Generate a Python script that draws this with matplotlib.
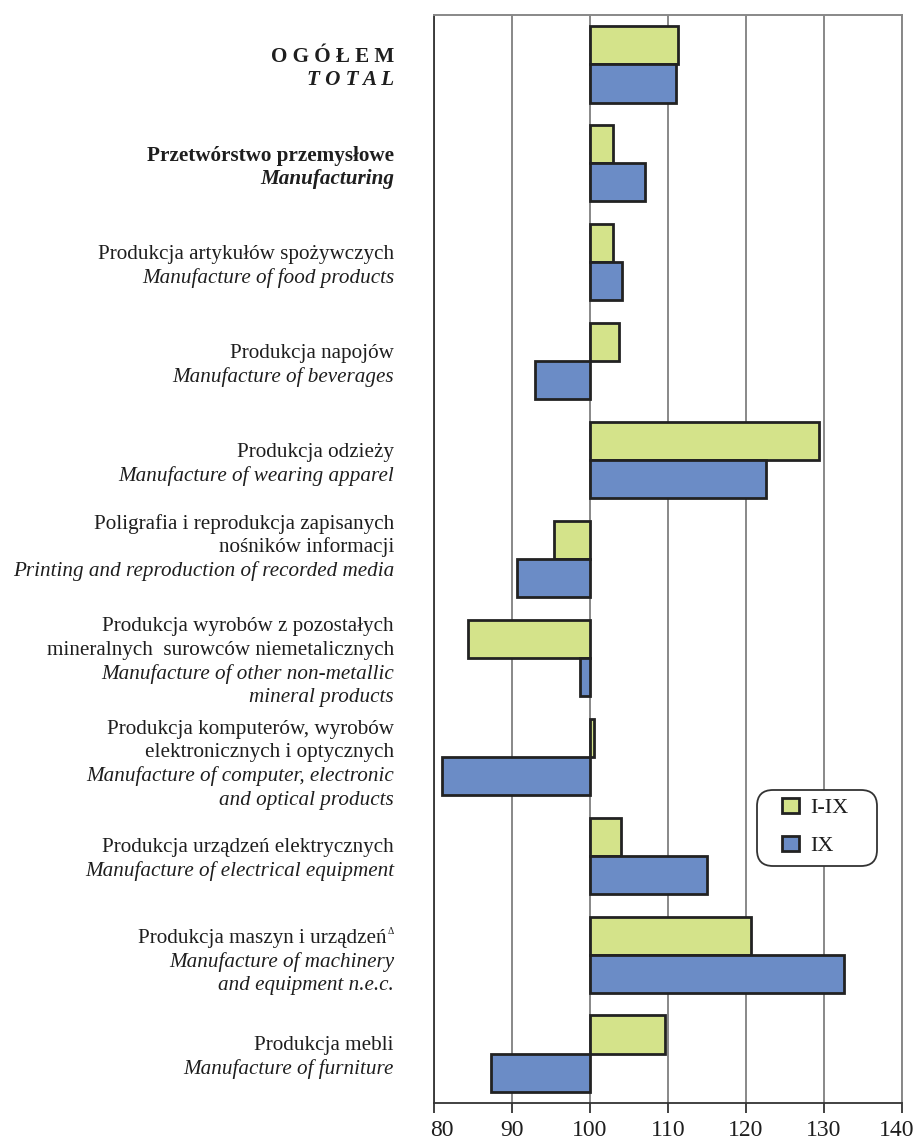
import matplotlib
matplotlib.use("Agg")
import matplotlib.pyplot as plt
import matplotlib.transforms as mtransforms
from matplotlib.patches import Patch, FancyBboxPatch

# category labels: (polish lines, english lines)
labels_pl = [
    ["O G Ó Ł E M"],
    ["Przetwórstwo przemysłowe"],
    ["Produkcja artykułów spożywczych"],
    ["Produkcja napojów"],
    ["Produkcja odzieży"],
    ["Poligrafia i reprodukcja zapisanych", "nośników informacji"],
    ["Produkcja wyrobów z pozostałych", "mineralnych  surowców niemetalicznych"],
    ["Produkcja komputerów, wyrobów", "elektronicznych i optycznych"],
    ["Produkcja urządzeń elektrycznych"],
    ["Produkcja maszyn i urządzeń"],
    ["Produkcja mebli"],
]
labels_en = [
    ["T O T A L"],
    ["Manufacturing"],
    ["Manufacture of food products"],
    ["Manufacture of beverages"],
    ["Manufacture of wearing apparel"],
    ["Printing and reproduction of recorded media"],
    ["Manufacture of other non-metallic", "mineral products"],
    ["Manufacture of computer, electronic", "and optical products"],
    ["Manufacture of electrical equipment"],
    ["Manufacture of machinery", "and equipment n.e.c."],
    ["Manufacture of furniture"],
]

# indices, previous year = 100
i_ix = [111.3, 103.0, 103.0, 103.7, 129.3, 95.4, 84.4, 100.5, 104.0, 120.6, 109.6]
ix = [111.0, 107.0, 104.1, 93.0, 122.6, 90.7, 98.7, 81.0, 115.0, 132.6, 87.3]

series_names = ["I-IX", "IX"]
xticks = [80, 90, 100, 110, 120, 130, 140]

green = "#d4e38a"
blue = "#6b8cc6"
edge = "#222222"
txt = "#1e1e1e"
plt.rcParams["font.family"] = ["Liberation Serif", "DejaVu Serif"]

fig = plt.figure(figsize=(9.15, 11.43), dpi=100)
ax = fig.add_axes([434 / 915, 40 / 1143, 468 / 915, 1088 / 1143])

n = len(i_ix)
pos = list(range(n))
h = 0.385
base = 100

ax.barh([p - h / 2 for p in pos], [v - base for v in i_ix], height=h, left=base,
        color=green, edgecolor=edge, linewidth=2.0, zorder=3)
ax.barh([p + h / 2 for p in pos], [v - base for v in ix], height=h, left=base,
        color=blue, edgecolor=edge, linewidth=2.0, zorder=3)

ax.set_xlim(80, 140)
ax.set_ylim(n - 0.5, -0.5)
ax.set_xticks(xticks)
ax.set_xticklabels([])
ax.set_yticks([])
ax.tick_params(axis="x", direction="out", length=7, width=1.3, color="#333333")
ax.grid(axis="x", color="#888888", linewidth=1.4, zorder=0)
ax.set_axisbelow(True)
for s in ["left", "bottom"]:
    ax.spines[s].set_color("#333333")
    ax.spines[s].set_linewidth(1.3)
for s in ["top", "right"]:
    ax.spines[s].set_color("#888888")
    ax.spines[s].set_linewidth(1.4)

# tick labels (ends nudged inwards like the original)
xtrans = ax.get_xaxis_transform()
for t in xticks:
    dx = 0
    if t == xticks[0]:
        dx = 8
    elif t == xticks[-1]:
        dx = -5
    tr = xtrans + mtransforms.ScaledTranslation(dx / 100, 0, fig.dpi_scale_trans)
    ax.text(t, -0.0257, str(t), transform=tr, ha="center", va="center",
            fontsize=17, color=txt, clip_on=False)

# category labels to the left of the axes
trans = mtransforms.blended_transform_factory(fig.transFigure, ax.transData)
xr = 394 / 915
step = 0.238
shifts = {5: -0.12, 7: 0.08, 9: 0.07}
for i in range(n):
    lines = [(t, "pl") for t in labels_pl[i]] + [(t, "en") for t in labels_en[i]]
    k = len(lines)
    y0 = i + shifts.get(i, 0.04) - step * (k - 1) / 2
    for j, (t, lang) in enumerate(lines):
        weight = "bold" if i < 2 else "normal"
        style = "italic" if lang == "en" else "normal"
        xx = xr
        if i == 9 and j == 0:
            xx = xr - 8 / 915
            fig.text(xr, y0 + j * step - 0.07, "Δ", transform=trans, ha="right",
                     va="center", fontsize=7, color=txt)
        fig.text(xx, y0 + j * step, t, transform=trans, ha="right", va="center",
                 fontsize=15.2, fontweight=weight, fontstyle=style, color=txt)

# legend: rounded white box, entries inside
box = FancyBboxPatch((7.57, 2.77), 1.20, 0.76, boxstyle="round,pad=0,rounding_size=0.16",
                     transform=fig.dpi_scale_trans, facecolor="white",
                     edgecolor="#333333", linewidth=1.3, zorder=4, clip_on=False)
ax.add_artist(box)
handles = [Patch(facecolor=green, edgecolor=edge, linewidth=2.0),
           Patch(facecolor=blue, edgecolor=edge, linewidth=2.0)]
leg = ax.legend(handles, series_names, loc="center left",
                bbox_to_anchor=((782 - 434) / 468, (1103 - 827) / 1088),
                fontsize=16, frameon=False, handlelength=0.77, handleheight=0.7,
                labelspacing=0.78, borderpad=0, handletextpad=0.5, borderaxespad=0)
for t in leg.get_texts():
    t.set_color(txt)
leg.set_zorder(5)

fig.savefig("out.png", dpi=100)
